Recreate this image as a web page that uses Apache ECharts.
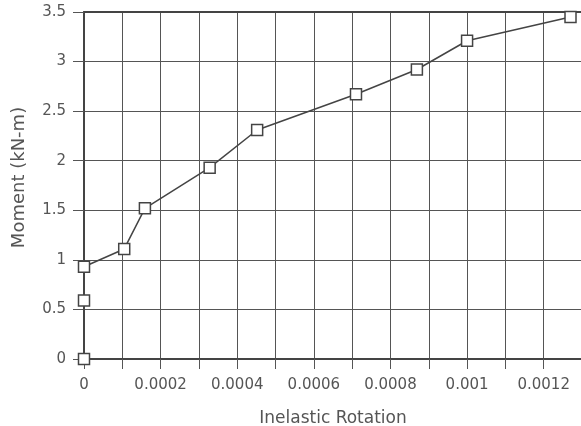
<!DOCTYPE html>
<html><head><meta charset="utf-8">
<script src="https://cdn.jsdelivr.net/npm/echarts@6/dist/echarts.min.js"></script>
<style>html,body{margin:0;padding:0;background:#fff}#c{width:581px;height:426px}</style>
</head><body><div id="c"></div>
<script>
var rotation = [0, 0, 0, 0.000105, 0.000159, 0.000328, 0.000452, 0.00071, 0.000869, 0.001, 0.00127];
var moment = [0, 0.59, 0.93, 1.11, 1.52, 1.93, 2.31, 2.67, 2.92, 3.21, 3.45];
var yTicks = ['0', '0.5', '1', '1.5', '2', '2.5', '3', '3.5'];
var xTickLabels = ['0', '0.0002', '0.0004', '0.0006', '0.0008', '0.001', '0.0012'];

var data = rotation.map(function (r, i) { return [r, moment[i]]; });
var txt = '#555';
var chart = echarts.init(document.getElementById('c'));
chart.setOption({
  animation: false,
  backgroundColor: '#fff',
  grid: { left: 84, top: 12, right: -1, bottom: 67, show: false, containLabel: false, outerBoundsMode: 'none' },
  xAxis: [{
    type: 'value', min: 0, max: 0.0013, interval: 0.0001,
    name: 'Inelastic Rotation', nameLocation: 'middle', nameGap: 51,
    nameTextStyle: { fontFamily: 'DejaVu Sans', fontSize: 17, color: txt, letterSpacing: 1 },
    axisLine: { show: true, onZero: false, lineStyle: { color: '#444', width: 2 } },
    axisTick: { show: true, inside: false, length: 10, lineStyle: { color: '#555', width: 1 } },
    axisLabel: {
      margin: 19, fontFamily: 'DejaVu Sans', fontSize: 15, color: txt, showMaxLabel: false,
      formatter: function (v) {
        var k = Math.round(v / 0.0001);
        if (k % 2 !== 0) return '';
        return xTickLabels[k / 2] || '';
      }
    },
    splitLine: { show: true, lineStyle: { color: '#555', width: 1 } }
  }, {
    type: 'value', position: 'top', min: 0, max: 0.0013,
    axisLine: { show: true, onZero: false, lineStyle: { color: '#444', width: 2 } },
    axisTick: { show: false }, axisLabel: { show: false }, splitLine: { show: false }
  }],
  yAxis: {
    type: 'value', min: 0, max: 3.5, interval: 0.5,
    name: 'Moment (kN-m)', nameLocation: 'middle', nameGap: 56,
    nameTextStyle: { fontFamily: 'DejaVu Sans', fontSize: 18, color: txt, letterSpacing: 2, padding: [0, 0, 0, 16] },
    axisLine: { show: true, onZero: false, lineStyle: { color: '#444', width: 2 } },
    axisTick: { show: true, inside: false, length: 11, lineStyle: { color: '#555', width: 1 } },
    axisLabel: {
      margin: 18, fontFamily: 'DejaVu Sans', fontSize: 15, color: txt,
      formatter: function (v) { return yTicks[Math.round(v / 0.5)]; }
    },
    splitLine: { show: true, lineStyle: { color: '#555', width: 1 } }
  },
  series: [{
    type: 'line', data: data, symbol: 'rect', symbolSize: 11,
    lineStyle: { color: '#444', width: 1.5 },
    itemStyle: { color: '#fff', borderColor: '#444', borderWidth: 1.5 },
    clip: false, z: 5
  }]
});
</script></body></html>
